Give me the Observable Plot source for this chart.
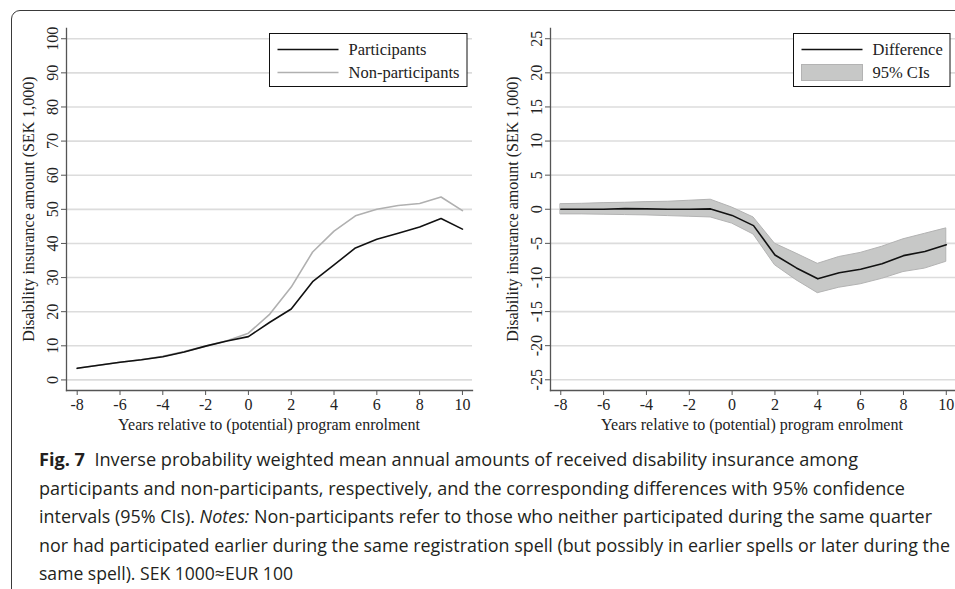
<!DOCTYPE html>
<html><head><meta charset="utf-8">
<script src="https://cdn.jsdelivr.net/npm/d3@7"></script>
<script src="https://cdn.jsdelivr.net/npm/@observablehq/plot@0.6"></script>
<style>
html,body{margin:0;padding:0;background:#fff;width:955px;height:589px;overflow:hidden;}
#frame{position:absolute;left:11px;top:10px;width:1000px;height:700px;border:1.3px solid #3a3a3a;border-top-left-radius:9px;box-sizing:border-box;}
#left{position:absolute;left:0;top:0;}
#right{position:absolute;left:477px;top:0;}
.cap{position:absolute;left:39px;white-space:nowrap;font-family:"Open Sans","Noto Sans",sans-serif;font-size:18px;line-height:24px;height:24px;color:#231f20;transform-origin:0 0;}
</style></head>
<body>
<div id="frame"></div>
<div id="left"></div>
<div id="right"></div>
<div id="caption"></div>
<script>
const years = [-8,-7,-6,-5,-4,-3,-2,-1,0,1,2,3,4,5,6,7,8,9,10];
const participants = [3.4,4.3,5.2,5.9,6.8,8.2,9.9,11.4,12.7,16.9,20.8,28.8,33.7,38.7,41.2,43.0,44.8,47.3,44.2];
const nonParticipants = [3.4,4.3,5.2,5.9,6.9,8.3,9.9,11.5,13.7,19.3,27.2,37.5,43.6,48.1,50.0,51.1,51.7,53.6,49.6];
const difference = [0,0,0,0.1,0.05,0,0,0.05,-0.9,-2.4,-6.7,-8.6,-10.2,-9.3,-8.8,-8.0,-6.8,-6.2,-5.2];
const ciUpper = [0.75,0.8,0.9,0.95,1.05,1.1,1.25,1.4,0.25,-1.2,-5.05,-6.5,-8.0,-7.0,-6.4,-5.5,-4.4,-3.6,-2.8];
const ciLower = [-0.75,-0.75,-0.8,-0.85,-0.9,-1.0,-1.1,-1.2,-2.1,-3.7,-8.2,-10.4,-12.3,-11.5,-11.0,-10.2,-9.2,-8.7,-7.7];
const xTicks = [-8,-6,-4,-2,0,2,4,6,8,10];
const leftYTicks = [0,10,20,30,40,50,60,70,80,90,100];
const rightYTicks = [-25,-20,-15,-10,-5,0,5,10,15,20,25];
const xTitle = "Years relative to (potential) program enrolment";
const yTitle = "Disability insurance amount (SEK 1,000)";
const captionLines = [
  '<b>Fig. 7</b>&nbsp; Inverse probability weighted mean annual amounts of received disability insurance among',
  'participants and non-participants, respectively, and the corresponding differences with 95% confidence',
  'intervals (95% CIs). <i>Notes:</i> Non-participants refer to those who neither participated during the same quarter',
  'nor had participated earlier during the same registration spell (but possibly in earlier spells or later during the',
  'same spell). SEK 1000≈EUR 100'
];

const leftData = years.map((y,i)=>({year:y, p:participants[i], n:nonParticipants[i]}));
const rightData = years.map((y,i)=>({year:y, d:difference[i], lo:ciLower[i], hi:ciUpper[i]}));

const serif = "Liberation Serif, Times New Roman, serif";
const axisColor = "#555";
const textColor = "#222";
const fmt = d => String(d);

function common(yTicks){
  return [
    Plot.gridY(yTicks, {stroke:"#dcdcdc", strokeOpacity:1, strokeWidth:1.6}),
    Plot.axisX(xTicks, {tickSize:5, tickPadding:3, stroke:axisColor, fill:textColor, fontSize:16, label:null, tickFormat:fmt}),
    Plot.axisY(yTicks, {tickSize:5, tickPadding:4, tickRotate:-90, stroke:axisColor, fill:textColor, fontSize:16, label:null, tickFormat:fmt}),
    Plot.frame({anchor:"left", stroke:axisColor, strokeWidth:1.3}),
    Plot.frame({anchor:"bottom", stroke:axisColor, strokeWidth:1.3})
  ];
}

const left = Plot.plot({
  width:477, height:440,
  marginLeft:66, marginRight:5, marginTop:28, marginBottom:50,
  style:{fontFamily:serif, background:"transparent"},
  x:{domain:[-8.5,10.47]},
  y:{domain:[-3.1,103]},
  marks:[
    ...common(leftYTicks),
    Plot.line(leftData, {x:"year", y:"n", stroke:"#b0b0b0", strokeWidth:1.6}),
    Plot.line(leftData, {x:"year", y:"p", stroke:"#111", strokeWidth:1.6})
  ]
});
document.getElementById("left").appendChild(left);

const right = Plot.plot({
  width:478, height:440,
  marginLeft:73, marginRight:0, marginTop:28, marginBottom:50,
  style:{fontFamily:serif, background:"transparent"},
  x:{domain:[-8.48,10.43]},
  y:{domain:[-26.57,26.5]},
  marks:[
    ...common(rightYTicks),
    Plot.areaY(rightData, {x:"year", y1:"lo", y2:"hi", fill:"#c7c8c7", stroke:"#b3b3b3", strokeWidth:1}),
    Plot.line(rightData, {x:"year", y:"d", stroke:"#111", strokeWidth:1.6})
  ]
});
document.getElementById("right").appendChild(right);

function addTitles(svg, cx, cy){
  const s = d3.select(svg);
  s.append("text").attr("x", cx).attr("y", 430).attr("text-anchor","middle")
    .attr("font-family", serif).attr("font-size", 16).attr("fill", textColor).text(xTitle);
  s.append("text").attr("transform", `translate(${cy},209) rotate(-90)`).attr("text-anchor","middle")
    .attr("font-family", serif).attr("font-size", 16).attr("fill", textColor).text(yTitle);
}
addTitles(left, 269, 34);
addTitles(right, 752-477, 518-477);

function legend(svg, x0, x1, items){
  const s = d3.select(svg);
  s.append("rect").attr("x", x0).attr("y", 33.5).attr("width", x1-x0).attr("height", 53)
    .attr("fill","#fff").attr("stroke","#111").attr("stroke-width",1);
  items.forEach((it,i)=>{
    const yy = 49.5 + i*23;
    if (it.type === "line") {
      s.append("line").attr("x1", x0+8).attr("x2", x0+69).attr("y1", yy).attr("y2", yy)
        .attr("stroke", it.color).attr("stroke-width", 1.6);
    } else {
      s.append("rect").attr("x", x0+8).attr("y", yy-8).attr("width", 61).attr("height", 16)
        .attr("fill", "#c7c8c7").attr("stroke", "#b3b3b3");
    }
    s.append("text").attr("x", x0+79).attr("y", yy+5.5).attr("text-anchor","start").attr("font-family", serif)
      .attr("font-size", 16.5).attr("fill", textColor).text(it.label);
  });
}
legend(left, 269.5, 467, [{type:"line", color:"#111", label:"Participants"},{type:"line", color:"#b0b0b0", label:"Non-participants"}]);
legend(right, 793.5-477, 950-477, [{type:"line", color:"#111", label:"Difference"},{type:"area", label:"95% CIs"}]);

// caption: baselines and right ends
const capBaselines = [466, 494.5, 523, 551.5, 580];
const capEnds = [858, 905, 932, 950, 293];
const capHost = document.getElementById("caption");
captionLines.forEach((html,i)=>{
  const d = document.createElement("div");
  d.className = "cap";
  d.innerHTML = html;
  // line box 24px, Open Sans: baseline ≈ top + (24-18*1.362)/2 + 18*1.069
  d.style.top = (capBaselines[i] - ((24-18*1.362)/2 + 18*1.069)) + "px";
  capHost.appendChild(d);
  const w = d.getBoundingClientRect().width;
  const target = capEnds[i] - 39;
  d.style.transform = `scaleX(${target/w})`;
});
</script>
</body></html>
